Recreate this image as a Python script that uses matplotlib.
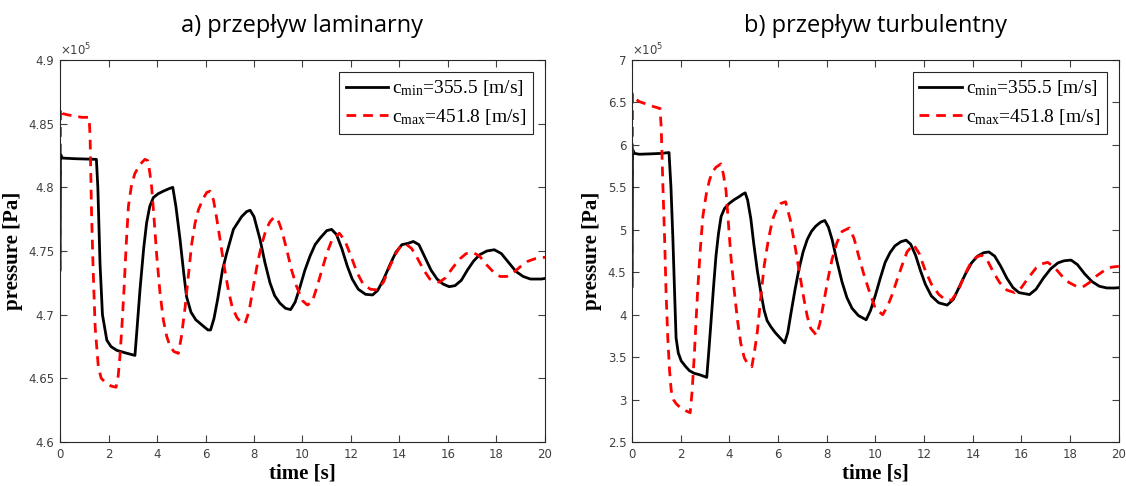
import numpy as np
import matplotlib.pyplot as plt
from matplotlib.ticker import FuncFormatter

# ---- data (pressure in units of 1e5 Pa) ----
titles = ['a) przepływ laminarny', 'b) przepływ turbulentny']
legend_labels = [r'c$_{\mathrm{min}}$=355.5 [m/s]', r'c$_{\mathrm{max}}$=451.8 [m/s]']

lam_t_min = [0.00, 0.02, 0.10, 0.60, 1.50, 1.56, 1.65, 1.75, 1.93, 2.10, 2.34, 2.70, 3.09, 3.18, 3.30,
             3.45, 3.57, 3.70, 3.85, 4.05, 4.26, 4.50, 4.65, 4.78, 4.95, 5.10, 5.22, 5.40, 5.60, 5.91,
             6.10, 6.21, 6.35, 6.50, 6.70, 6.87, 7.15, 7.49, 7.70, 7.84, 8.00, 8.25, 8.45, 8.66, 8.85,
             9.07, 9.30, 9.51, 9.70, 9.90, 10.10, 10.31, 10.52, 10.72, 11.00, 11.20, 11.40, 11.62,
             11.85, 12.05, 12.30, 12.60, 12.89, 13.10, 13.35, 13.60, 13.85, 14.10, 14.35, 14.57,
             14.80, 15.05, 15.30, 15.55, 15.80, 16.05, 16.29, 16.55, 16.80, 17.05, 17.30, 17.60,
             17.91, 18.20, 18.50, 18.80, 19.10, 19.40, 19.86, 20.00]
lam_p_min = [4.735, 4.826, 4.823, 4.8225, 4.822, 4.80, 4.74, 4.70, 4.680, 4.675, 4.672, 4.670, 4.668,
             4.69, 4.72, 4.752, 4.772, 4.785, 4.792, 4.795, 4.797, 4.799, 4.800, 4.785, 4.759, 4.733,
             4.714, 4.702, 4.696, 4.691, 4.688, 4.688, 4.697, 4.712, 4.735, 4.748, 4.767, 4.777,
             4.781, 4.782, 4.777, 4.759, 4.741, 4.725, 4.715, 4.709, 4.705, 4.704, 4.710, 4.722,
             4.735, 4.746, 4.755, 4.760, 4.766, 4.767, 4.763, 4.752, 4.738, 4.728, 4.720, 4.716,
             4.7155, 4.719, 4.728, 4.739, 4.749, 4.755, 4.756, 4.7575, 4.755, 4.745, 4.735, 4.728,
             4.724, 4.722, 4.7228, 4.727, 4.735, 4.742, 4.747, 4.750, 4.751, 4.748, 4.741, 4.734,
             4.730, 4.728, 4.728, 4.7285]

lam_t_max = [0.00, 0.02, 0.10, 0.30, 0.60, 0.90, 1.20, 1.24, 1.30, 1.37, 1.45, 1.58, 1.70, 1.86, 2.10,
             2.31, 2.40, 2.47, 2.55, 2.64, 2.73, 2.82, 2.95, 3.09, 3.30, 3.50, 3.62, 3.70, 3.78, 3.88,
             3.99, 4.12, 4.26, 4.40, 4.54, 4.70, 4.88, 5.00, 5.16, 5.30, 5.43, 5.57, 5.71, 5.90, 6.05,
             6.19, 6.33, 6.45, 6.60, 6.77, 6.94, 7.10, 7.29, 7.45, 7.63, 7.80, 7.97, 8.15, 8.32, 8.50,
             8.66, 8.80, 8.96, 9.15, 9.35, 9.55, 9.76, 10.00, 10.20, 10.40, 10.60, 10.80, 11.00,
             11.20, 11.52, 11.75, 12.00, 12.25, 12.50, 12.80, 13.09, 13.35, 13.60, 13.85, 14.05,
             14.27, 14.50, 14.75, 15.00, 15.25, 15.64, 15.90, 16.20, 16.50, 16.75, 17.04, 17.30,
             17.60, 17.90, 18.15, 18.42, 18.70, 19.00, 19.30, 19.60, 19.86, 20.00]
lam_p_max = [4.735, 4.862, 4.858, 4.857, 4.856, 4.855, 4.855, 4.84, 4.78, 4.733, 4.69, 4.659, 4.650,
             4.647, 4.644, 4.643, 4.652, 4.667, 4.69, 4.72, 4.755, 4.785, 4.802, 4.811, 4.818, 4.822,
             4.821, 4.812, 4.800, 4.775, 4.746, 4.718, 4.696, 4.683, 4.675, 4.671, 4.6696, 4.682,
             4.706, 4.732, 4.7555, 4.772, 4.7825, 4.791, 4.796, 4.797, 4.790, 4.777, 4.759, 4.738,
             4.7195, 4.706, 4.698, 4.694, 4.693, 4.703, 4.722, 4.741, 4.7555, 4.767, 4.773, 4.776,
             4.776, 4.766, 4.751, 4.735, 4.722, 4.711, 4.7076, 4.710, 4.722, 4.735, 4.748, 4.758,
             4.764, 4.758, 4.746, 4.733, 4.724, 4.720, 4.7194, 4.726, 4.738, 4.748, 4.754, 4.7554,
             4.752, 4.744, 4.735, 4.728, 4.7255, 4.729, 4.737, 4.744, 4.748, 4.7488, 4.746, 4.739,
             4.733, 4.730, 4.730, 4.733, 4.738, 4.742, 4.744, 4.745, 4.745]

tur_t_min = [0.00, 0.02, 0.10, 0.30, 0.80, 1.20, 1.52, 1.60, 1.68, 1.75, 1.81, 1.90, 2.02, 2.20, 2.36,
             2.55, 2.77, 3.07, 3.15, 3.25, 3.35, 3.45, 3.55, 3.66, 3.80, 3.99, 4.20, 4.40, 4.55, 4.65,
             4.75, 4.88, 5.00, 5.15, 5.30, 5.43, 5.55, 5.70, 5.88, 6.04, 6.27, 6.40, 6.52, 6.70, 6.86,
             7.03, 7.20, 7.37, 7.54, 7.75, 7.92, 8.07, 8.22, 8.42, 8.63, 8.83, 9.04, 9.30, 9.62, 9.80,
             10.00, 10.20, 10.40, 10.60, 10.80, 11.05, 11.26, 11.45, 11.65, 11.85, 12.05, 12.30,
             12.60, 12.95, 13.20, 13.45, 13.70, 13.95, 14.20, 14.45, 14.66, 14.90, 15.15, 15.40,
             15.65, 15.90, 16.33, 16.60, 16.90, 17.20, 17.50, 17.75, 18.04, 18.30, 18.60, 18.90,
             19.20, 19.50, 19.81, 20.00]
tur_p_min = [4.33, 5.95, 5.90, 5.89, 5.895, 5.90, 5.91, 5.50, 4.886, 4.25, 3.726, 3.55, 3.456, 3.39,
             3.34, 3.31, 3.293, 3.262, 3.55, 3.935, 4.33, 4.693, 4.95, 5.157, 5.25, 5.31, 5.355, 5.39,
             5.42, 5.435, 5.35, 5.133, 4.84, 4.515, 4.25, 4.05, 3.93, 3.86, 3.79, 3.74, 3.668, 3.79,
             4.00, 4.30, 4.538, 4.74, 4.886, 4.98, 5.04, 5.09, 5.11, 5.03, 4.886, 4.63, 4.384, 4.20,
             4.075, 3.99, 3.94, 4.05, 4.23, 4.43, 4.616, 4.73, 4.81, 4.86, 4.878, 4.83, 4.70, 4.52,
             4.36, 4.22, 4.14, 4.113, 4.18, 4.33, 4.48, 4.61, 4.69, 4.73, 4.739, 4.69, 4.57, 4.43,
             4.32, 4.26, 4.237, 4.30, 4.43, 4.54, 4.61, 4.635, 4.643, 4.59, 4.48, 4.39, 4.335, 4.315,
             4.314, 4.318]

tur_t_max = [0.00, 0.02, 0.10, 0.30, 0.60, 0.90, 1.15, 1.20, 1.27, 1.34, 1.40, 1.47, 1.54, 1.61, 1.70,
             1.81, 2.00, 2.15, 2.39, 2.47, 2.56, 2.63, 2.70, 2.80, 2.91, 3.05, 3.18, 3.30, 3.45, 3.65,
             3.75, 3.86, 3.96, 4.06, 4.20, 4.34, 4.47, 4.61, 4.75, 4.92, 5.03, 5.15, 5.29, 5.43, 5.60,
             5.77, 5.95, 6.11, 6.31, 6.50, 6.72, 6.90, 7.06, 7.20, 7.34, 7.58, 7.72, 7.88, 8.05, 8.22,
             8.42, 8.63, 8.93, 9.12, 9.31, 9.52, 9.72, 10.00, 10.30, 10.50, 10.68, 10.90, 11.09,
             11.30, 11.56, 11.80, 12.05, 12.30, 12.60, 12.85, 13.13, 13.40, 13.65, 13.90, 14.15,
             14.36, 14.60, 14.85, 15.10, 15.40, 15.72, 16.00, 16.30, 16.60, 16.85, 17.08, 17.35,
             17.65, 17.95, 18.25, 18.52, 18.80, 19.10, 19.40, 19.70, 20.00]
tur_p_max = [4.33, 6.60, 6.55, 6.51, 6.48, 6.45, 6.43, 6.20, 5.50, 4.886, 4.25, 3.726, 3.35, 3.107,
             3.00, 2.953, 2.90, 2.876, 2.845, 3.10, 3.53, 3.92, 4.30, 4.75, 5.157, 5.42, 5.582, 5.68,
             5.737, 5.776, 5.66, 5.466, 5.08, 4.693, 4.28, 3.92, 3.66, 3.495, 3.42, 3.386, 3.56,
             3.804, 4.20, 4.577, 4.88, 5.118, 5.25, 5.31, 5.33, 5.12, 4.77, 4.46, 4.19, 3.98, 3.84,
             3.757, 3.90, 4.15, 4.42, 4.654, 4.85, 4.98, 5.022, 4.90, 4.693, 4.48, 4.30, 4.07, 4.00,
             4.10, 4.23, 4.42, 4.577, 4.74, 4.828, 4.72, 4.52, 4.36, 4.24, 4.18, 4.171, 4.28, 4.46,
             4.60, 4.68, 4.70, 4.64, 4.50, 4.38, 4.29, 4.26, 4.32, 4.44, 4.55, 4.60, 4.616, 4.56,
             4.46, 4.38, 4.335, 4.326, 4.38, 4.46, 4.52, 4.56, 4.57]

x_ticks = np.arange(0, 21, 2)
y_ticks_lam = np.arange(4.6, 4.901, 0.05)
y_ticks_tur = np.arange(2.5, 7.01, 0.5)

plt.rcParams['mathtext.fontset'] = 'custom'
plt.rcParams['mathtext.rm'] = 'Liberation Serif'
plt.rcParams['mathtext.it'] = 'Liberation Serif:italic'

fig = plt.figure(figsize=(11.26, 4.86), dpi=100)
ax1 = fig.add_axes([0.0533, 0.0905, 0.4307, 0.786])
ax2 = fig.add_axes([0.5613, 0.0905, 0.4323, 0.786])

panels = [
    (ax1, lam_t_min, lam_p_min, lam_t_max, lam_p_max, y_ticks_lam, (4.6, 4.9), titles[0]),
    (ax2, tur_t_min, tur_p_min, tur_t_max, tur_p_max, y_ticks_tur, (2.5, 7.0), titles[1]),
]

tick_color = '#404040'
for ax, t1, p1, t2, p2, yt, ylim, title in panels:
    ax.plot(t1, p1, color='black', lw=2.0, label=legend_labels[0])
    ax.plot(t2, p2, color='red', lw=2.0, ls=(0, (3.5, 2.5)), label=legend_labels[1])
    ax.set_xlim(0, 20)
    ax.set_ylim(*ylim)
    ax.set_xticks(x_ticks)
    ax.set_yticks(yt)
    ax.yaxis.set_major_formatter(FuncFormatter(lambda v, pos: '%g' % round(v, 3)))
    ax.tick_params(direction='in', top=True, right=True, length=5, width=0.8,
                   labelsize=8.5, colors=tick_color, pad=4)
    ax.tick_params(axis='both', labelcolor=tick_color)
    for s in ax.spines.values():
        s.set_color('#262626')
        s.set_linewidth(0.8)
    ax.set_xlabel('time [s]', family='Liberation Serif', weight='bold', fontsize=15, labelpad=2)
    ax.set_ylabel('pressure [Pa]', family='Liberation Serif', weight='bold', fontsize=15, labelpad=4)
    ax.set_title(title, family='Open Sans', fontsize=17, pad=20)
    ax.text(0.0, 1.004, r'$\times10^{5}$', transform=ax.transAxes, fontsize=8.5,
            color=tick_color, family='DejaVu Sans', va='bottom', ha='left',
            math_fontfamily='dejavusans')
    leg = ax.legend(loc='upper right', prop={'family': 'Liberation Serif', 'size': 14},
                    fancybox=False, edgecolor='#262626', handlelength=2.2, handletextpad=0.2,
                    borderpad=0.35, labelspacing=0.45, borderaxespad=0.6, framealpha=1)
    leg.get_frame().set_linewidth(0.8)

fig.savefig('out.png', dpi=100)
